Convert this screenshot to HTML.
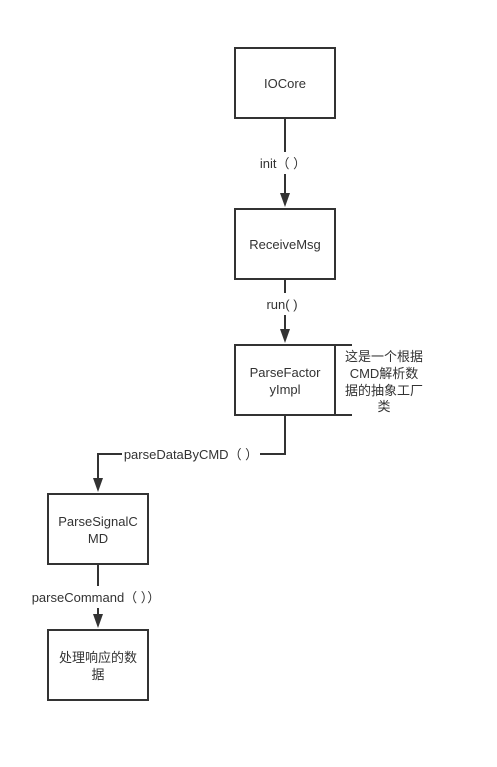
<!DOCTYPE html>
<html><head><meta charset="utf-8"><style>
html,body{margin:0;padding:0;background:#fff;}
svg text{font-family:"Liberation Sans","Noto Sans CJK SC",sans-serif;font-size:13px;fill:#333;}
</style></head><body>
<svg width="497" height="762" viewBox="0 0 497 762" xmlns="http://www.w3.org/2000/svg">
<rect width="497" height="762" fill="#fff"/>
<g fill="none" stroke="#333" stroke-width="2">
<rect x="235" y="48" width="100" height="70"/>
<rect x="235" y="209" width="100" height="70"/>
<rect x="235" y="345" width="100" height="70"/>
<rect x="48" y="494" width="100" height="70"/>
<rect x="48" y="630" width="100" height="70"/>
<path d="M335 345H352M335 415H352"/>
<path d="M285 118V152M285 174V195"/>
<path d="M285 279V293M285 315V331"/>
<path d="M285 415V454H260M122 454H98V480"/>
<path d="M98 564V586M98 608V616"/>
</g>
<g fill="#333">
<path d="M280 193L290 193L285 207Z"/>
<path d="M280 329L290 329L285 343Z"/>
<path d="M93 478L103 478L98 492Z"/>
<path d="M93 614L103 614L98 628Z"/>
</g>
<g text-anchor="middle">
<text x="285" y="88">IOCore</text>
<text x="285" y="249">ReceiveMsg</text>
<text x="285" y="377">ParseFactor</text>
<text x="285" y="394">yImpl</text>
<text x="98" y="526">ParseSignalC</text>
<text x="98" y="543">MD</text>
<text x="98" y="662">处理响应的数</text>
<text x="98" y="679">据</text>
<text x="384" y="361">这是一个根据</text>
<text x="384" y="378">CMD解析数</text>
<text x="384" y="395">据的抽象工厂</text>
<text x="384" y="411">类</text>
<text x="283" y="168">init（ ）</text>
<text x="282" y="309">run( )</text>
<text x="191" y="459">parseDataByCMD（ ）</text>
<text x="96" y="602">parseCommand（ ））</text>
</g>
</svg>
</body></html>
